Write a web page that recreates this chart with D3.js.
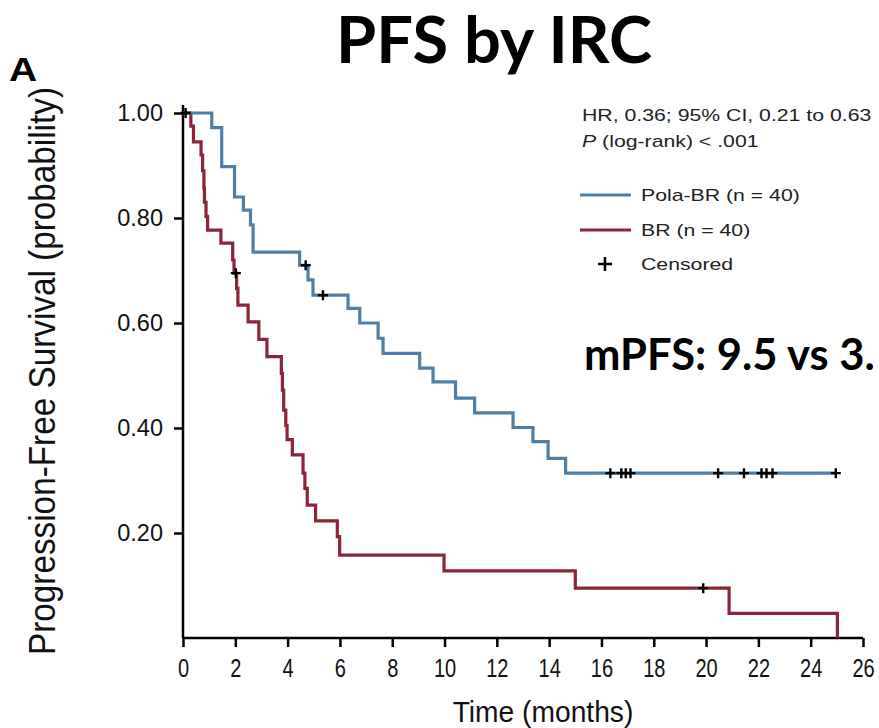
<!DOCTYPE html>
<html>
<head>
<meta charset="utf-8">
<script src="https://cdn.jsdelivr.net/npm/d3@7"></script>
<style>
  html, body { margin: 0; padding: 0; background: #fff; }
  svg { display: block; }
</style>
</head>
<body>
<svg id="chart" width="879" height="728"></svg>
<script>
// Kaplan-Meier step data: event times (months) and survival after each step
const polaTimes = [0, 1.1, 1.48, 1.97, 2.31, 2.58, 2.68, 4.46, 4.78, 4.97, 6.31, 6.76, 7.46, 7.65, 9.05, 9.56, 10.42, 11.15, 12.62, 13.38, 13.96, 14.63, 25.0];
const polaSurv  = [1.0, 0.972, 0.898, 0.84, 0.815, 0.787, 0.735, 0.71, 0.682, 0.653, 0.628, 0.60, 0.571, 0.542, 0.514, 0.488, 0.457, 0.429, 0.401, 0.374, 0.342, 0.314, 0.314];
const polaCensor = [4.69, 5.35, 16.34, 16.76, 16.93, 17.11, 20.46, 21.45, 22.12, 22.31, 22.54, 24.96];

const brTimes = [0, 0.3, 0.4, 0.69, 0.75, 0.8, 0.82, 0.88, 0.94, 1.45, 1.9, 1.95, 2.05, 2.1, 2.49, 2.9, 3.21, 3.76, 3.8, 3.85, 3.93, 3.98, 4.18, 4.59, 4.66, 4.75, 5.07, 5.9, 5.99, 9.98, 15.0, 20.88, 25.02];
const brSurv  = [1.0, 0.975, 0.945, 0.92, 0.89, 0.857, 0.83, 0.803, 0.777, 0.752, 0.72, 0.695, 0.666, 0.634, 0.602, 0.569, 0.536, 0.504, 0.472, 0.434, 0.405, 0.378, 0.349, 0.314, 0.285, 0.253, 0.223, 0.193, 0.158, 0.128, 0.095, 0.047, 0.0];
const brCensor = [0.1, 2.02, 19.89];

const xTicks = [0, 2, 4, 6, 8, 10, 12, 14, 16, 18, 20, 22, 24, 26];
const yTicks = [0.2, 0.4, 0.6, 0.8, 1.0];

const statLine = "HR, 0.36; 95% CI, 0.21 to 0.63";
const seriesNames = ["Pola-BR (n = 40)", "BR (n = 40)"];
const colors = { pola: "#4f7fa7", br: "#8b2537" };

const svg = d3.select("#chart");
const plot = { left: 183, right: 863, top: 105, bottom: 638 };

const x = d3.scaleLinear().domain([0, 26]).range([plot.left, plot.right]);
const y = d3.scaleLinear().domain([0, 1]).range([plot.bottom, 113]);

const sans = "'Liberation Sans', Arial, sans-serif";

// Title and panel letter
svg.append("text")
  .attr("x", 494).attr("y", 63)
  .attr("text-anchor", "middle")
  .style("font-family", "Lato, 'Open Sans', sans-serif")
  .style("font-weight", "bold")
  .style("font-size", "65px")
  .text("PFS by IRC");

svg.append("text")
  .attr("transform", "translate(9,81) scale(1.15,1)")
  .style("font-family", sans)
  .style("font-weight", "bold")
  .style("font-size", "34px")
  .text("A");

// Axes
const xAxis = d3.axisBottom(x).tickValues(xTicks).tickSize(9).tickFormat(d3.format("d"));
const yAxis = d3.axisLeft(y).tickValues(yTicks).tickSize(9).tickFormat(d3.format(".2f"));

const gx = svg.append("g").attr("transform", `translate(0,${plot.bottom})`).call(xAxis);
gx.select(".domain").attr("d", `M${plot.left},0H${plot.right}`);
gx.selectAll("line, path").attr("stroke", "#000").attr("stroke-width", 2.5);
gx.selectAll("text")
  .attr("y", 21)
  .attr("dy", "0.71em")
  .attr("transform", "scale(0.8,1)")
  .style("font-family", sans)
  .style("font-size", "25px")
  .attr("fill", "#111");

const gy = svg.append("g").attr("transform", `translate(${plot.left},0)`).call(yAxis);
gy.select(".domain").attr("d", `M0,${plot.top}V${plot.bottom}`);
gy.selectAll("line, path").attr("stroke", "#000").attr("stroke-width", 2.5);
gy.selectAll("text")
  .attr("x", -20)
  .style("font-family", sans)
  .style("font-size", "23.5px")
  .attr("fill", "#111");

// Axis titles
svg.append("text")
  .attr("transform", `translate(55,371) rotate(-90) scale(0.9,1)`)
  .attr("text-anchor", "middle")
  .style("font-family", sans)
  .style("font-size", "37px")
  .attr("fill", "#111")
  .text("Progression-Free Survival (probability)");

svg.append("text")
  .attr("transform", "translate(543,722) scale(0.94,1)")
  .attr("text-anchor", "middle")
  .style("font-family", sans)
  .style("font-size", "30px")
  .attr("fill", "#111")
  .text("Time (months)");

// Survival curves
const line = d3.line()
  .x(d => x(d[0]))
  .y(d => y(d[1]))
  .curve(d3.curveStepAfter);

const polaPts = polaTimes.map((t, i) => [t, polaSurv[i]]);
const brPts = brTimes.map((t, i) => [t, brSurv[i]]);

svg.append("path").datum(brPts)
  .attr("d", line).attr("fill", "none")
  .attr("stroke", colors.br).attr("stroke-width", 3.2);
svg.append("path").datum(polaPts)
  .attr("d", line).attr("fill", "none")
  .attr("stroke", colors.pola).attr("stroke-width", 3.2);

// Survival at a given time from step data
function survAt(times, surv, t) {
  let s = surv[0];
  for (let i = 0; i < times.length; i++) { if (times[i] <= t) s = surv[i]; }
  return s;
}

function drawCensor(times, surv, cens) {
  svg.append("g").selectAll("path")
    .data(cens)
    .join("path")
    .attr("d", t => {
      const cx = x(t), cy = y(survAt(times, surv, t));
      return `M${cx - 5},${cy}H${cx + 5}M${cx},${cy - 5}V${cy + 5}`;
    })
    .attr("stroke", "#000").attr("stroke-width", 2.4).attr("fill", "none");
}
drawCensor(polaTimes, polaSurv, polaCensor);
drawCensor(brTimes, brSurv, brCensor);

// Statistics and legend (text drawn slightly widened)
function legendText(xPos, yPos) {
  return svg.append("text")
    .attr("transform", `translate(${xPos},${yPos}) scale(1.25,1)`)
    .style("font-family", sans).style("font-size", "17px").attr("fill", "#222");
}
legendText(582, 121).text(statLine);
const pText = legendText(582, 147);
pText.append("tspan").style("font-style", "italic").text("P");
pText.append("tspan").text(" (log-rank) < .001");

const legend = [
  { name: seriesNames[0], color: colors.pola, y: 195 },
  { name: seriesNames[1], color: colors.br, y: 230 }
];
legend.forEach(d => {
  svg.append("line")
    .attr("x1", 580).attr("x2", 631).attr("y1", d.y).attr("y2", d.y)
    .attr("stroke", d.color).attr("stroke-width", 3);
  legendText(641, d.y + 6).text(d.name);
});
svg.append("path")
  .attr("d", `M598,264H612M605,257V271`)
  .attr("stroke", "#000").attr("stroke-width", 2.6);
legendText(641, 270).text("Censored");

// Median PFS annotation
svg.append("text")
  .attr("x", 584).attr("y", 370)
  .style("font-family", "Lato, 'Open Sans', sans-serif")
  .style("font-weight", "bold")
  .style("font-size", "43.5px")
  .attr("fill", "#000")
  .text("mPFS: 9.5 vs 3.");
</script>
</body>
</html>
